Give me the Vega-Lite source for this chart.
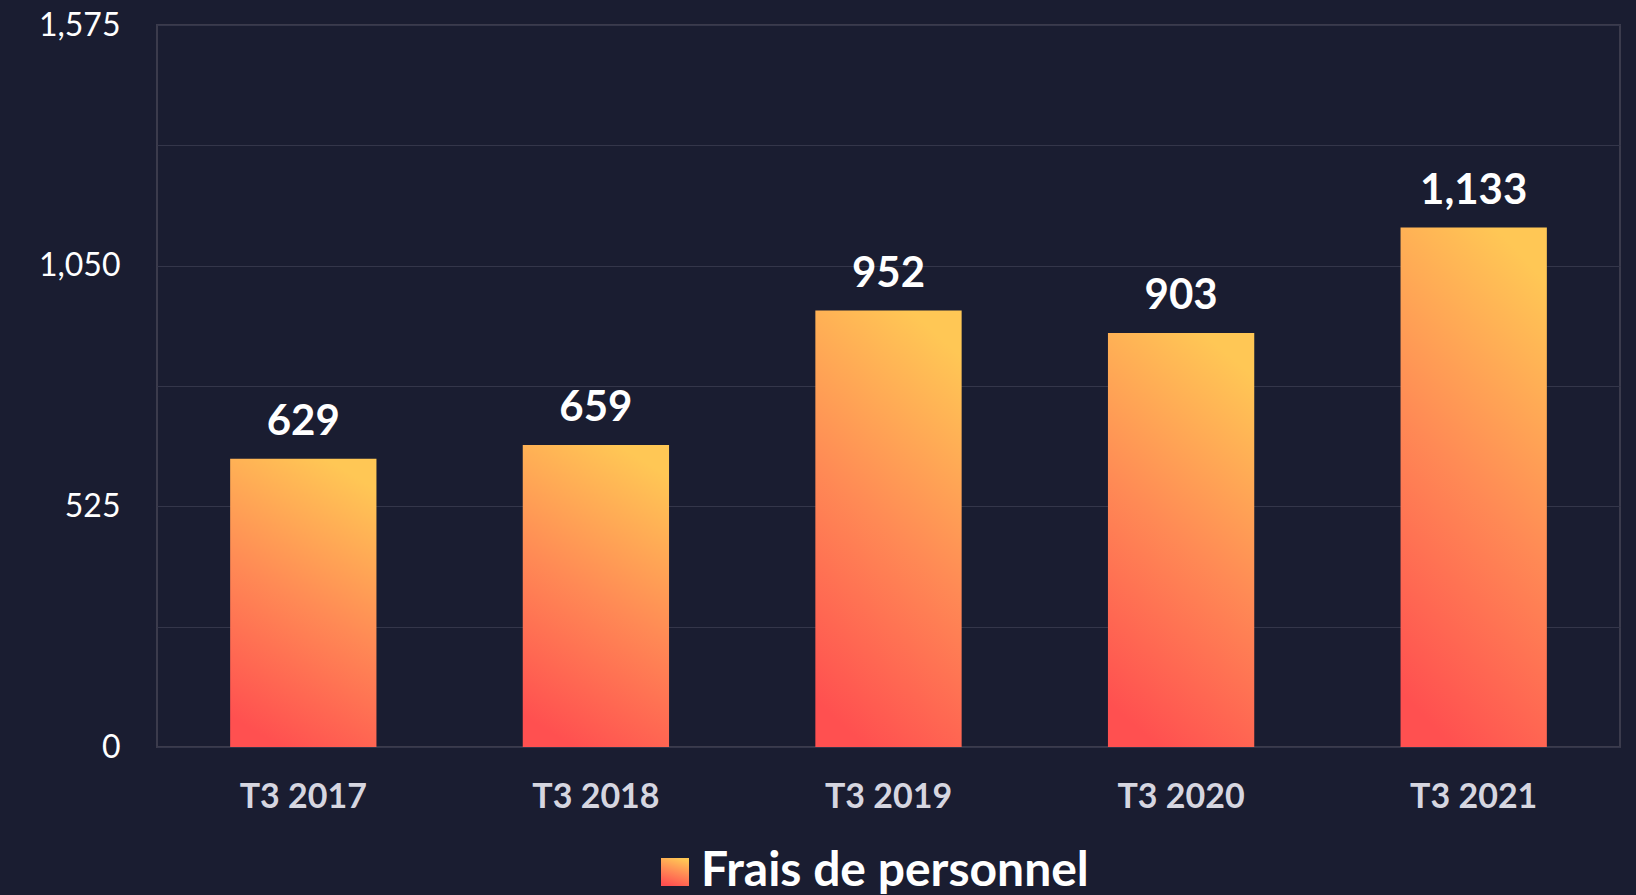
{
  "$schema": "https://vega.github.io/schema/vega-lite/v6.json",
  "autosize": {"type": "none"},
  "width": 1463,
  "height": 722,
  "padding": {"left": 157, "top": 25, "right": 16, "bottom": 148},
  "background": "#1a1d31",
  "config": {
    "view": {"stroke": "#3b3b4c", "strokeWidth": 2},
    "font": "Lato"
  },
  "data": {
    "values": [
      {"periode": "T3 2017", "valeur": 629, "serie": "Frais de personnel"},
      {"periode": "T3 2018", "valeur": 659, "serie": "Frais de personnel"},
      {"periode": "T3 2019", "valeur": 952, "serie": "Frais de personnel"},
      {"periode": "T3 2020", "valeur": 903, "serie": "Frais de personnel"},
      {"periode": "T3 2021", "valeur": 1133, "serie": "Frais de personnel"}
    ]
  },
  "encoding": {
    "x": {
      "field": "periode",
      "type": "nominal",
      "sort": null,
      "scale": {"paddingInner": 0.5, "paddingOuter": 0.25},
      "axis": {
        "title": null,
        "labelAngle": 0,
        "domain": false,
        "ticks": false,
        "labelPadding": 33,
        "labelFont": "Lato",
        "labelFontSize": 34,
        "labelFontWeight": "bold",
        "labelColor": "#d6d6e0"
      }
    },
    "y": {
      "field": "valeur",
      "type": "quantitative",
      "scale": {"domain": [0, 1575], "nice": false},
      "axis": {
        "title": null,
        "values": [0, 262.5, 525, 787.5, 1050, 1312.5, 1575],
        "labelExpr": "datum.value % 525 == 0 ? format(datum.value, ',') : ''",
        "domain": false,
        "ticks": false,
        "labelPadding": 37,
        "labelFont": "Lato",
        "labelFontSize": 32,
        "labelColor": "#ffffff",
        "gridColor": "#34364a",
        "gridWidth": 1.2
      }
    }
  },
  "layer": [
    {
      "mark": {
        "type": "bar",
        "fill": {"gradient": "linear", "x1": 0.35, "y1": 1, "x2": 0.65, "y2": 0, "stops": [{"offset": 0, "color": "#ff5050"}, {"offset": 0.5, "color": "#ff8a55"}, {"offset": 1, "color": "#ffc755"}]}
      },
      "encoding": {
        "opacity": {
          "field": "serie",
          "type": "ordinal",
          "scale": {"range": [1, 1]},
          "legend": {
            "title": null,
            "orient": "none",
            "legendX": 494,
            "legendY": 823,
            "direction": "horizontal",
            "symbolType": "square",
            "symbolSize": 784,
            "symbolStrokeWidth": 0,
            "symbolOpacity": 1,
            "labelFont": "Lato",
            "labelFontSize": 48,
            "labelFontWeight": "bold",
            "labelColor": "#ffffff",
            "labelOffset": 2,
            "labelLimit": 800
          }
        }
      }
    },
    {
      "mark": {
        "type": "text",
        "baseline": "alphabetic",
        "dy": -24,
        "font": "Lato",
        "fontSize": 42,
        "fontWeight": "bold",
        "color": "#ffffff"
      },
      "encoding": {
        "text": {"field": "valeur", "type": "quantitative", "format": ","}
      }
    }
  ]
}
